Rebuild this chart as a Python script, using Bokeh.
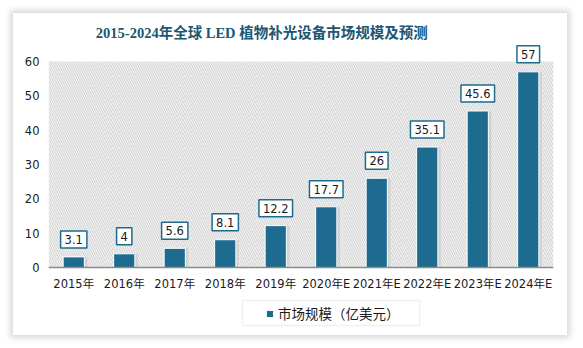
from bokeh.plotting import figure
from bokeh.models import (ColumnDataSource, BoxAnnotation, Legend, Span,
                          LegendItem, FactorRange)
from bokeh.core.properties import value
from bokeh.transform import dodge
from bokeh.embed import file_html
from bokeh.resources import INLINE

# Market size data (100 million USD), E = estimate
years = ["2015年", "2016年", "2017年", "2018年", "2019年",
         "2020年E", "2021年E", "2022年E", "2023年E", "2024年E"]
market_size = [3.1, 4, 5.6, 8.1, 12.2, 17.7, 26, 35.1, 45.6, 57]
value_labels = ["3.1", "4", "5.6", "8.1", "12.2", "17.7", "26", "35.1", "45.6", "57"]
y_ticks = [0, 10, 20, 30, 40, 50, 60]
title_text = "2015-2024年全球 LED 植物补光设备市场规模及预测"
legend_label = "市场规模（亿美元）"

BAR = "#1d6b8f"
SANS = "DejaVu Sans, Noto Sans CJK SC"
Y_MAX = 60
# the frame spans the whole card: headroom above for boxes and the title,
# room below zero for the category labels and the legend
Y_RANGE = (-19.8, 74)

src = ColumnDataSource(dict(year=years, size=market_size, label=value_labels))

p = figure(x_range=FactorRange(*years, range_padding=0), y_range=Y_RANGE,
           width=554, height=322, output_backend="svg", toolbar_location=None,
           min_border_left=35, min_border_right=14, min_border_top=0,
           min_border_bottom=0)
p.styles = {"margin-left": "13px", "margin-top": "13px",
            "box-shadow": "0px 0px 6px 3px #d9d9d9"}
p.outline_line_color = None
p.background_fill_color = "white"
p.border_fill_color = "white"

# hatched plot background, limited to the value scale
p.add_layout(BoxAnnotation(bottom=0, top=Y_MAX, fill_color="white", fill_alpha=1.0,
                           line_color=None, hatch_pattern="\\", hatch_color="#c8c8c8",
                           hatch_scale=4.5, hatch_weight=1, level="underlay"))

# soft shadow behind the bars
p.vbar(x=dodge("year", 0.06, range=p.x_range), top="size", width=0.42, source=src,
       fill_color="#bdbdbd", fill_alpha=0.45, line_color=None)
bars = p.vbar(x="year", top="size", width=0.42, source=src,
              fill_color=BAR, line_color="white", line_width=1)

# baseline of the category axis
p.add_layout(Span(location=0, dimension="width", line_color="#8c8c8c", line_width=1.5))

# category labels under the baseline
p.text(x="year", y=0, text="year", source=src, y_offset=9,
       text_align="center", text_baseline="top",
       text_font=value(SANS), text_font_size="11.5px", text_color="#1a1a1a")

# value labels in framed boxes
p.text(x="year", y="size", text="label", source=src,
       text_align="center", text_baseline="bottom", y_offset=-9,
       text_font=value(SANS), text_font_size="11.5px",
       text_color="#1a1a1a", background_fill_color="white",
       border_line_color=BAR, border_line_width=1.5, padding=4)

# chart title
p.text(x=[years[4]], y=[68.4], text=[title_text], x_offset=-14,
       text_font=value("Liberation Serif, Noto Sans CJK SC"),
       text_font_style="bold", text_font_size="14.5px",
       text_color="#1b5673", text_align="center", text_baseline="middle")

# axes
p.xaxis.visible = False
p.yaxis.ticker = y_ticks
p.yaxis.axis_line_color = None
p.yaxis.major_tick_line_color = None
p.yaxis.minor_tick_line_color = None
p.yaxis.major_label_text_font = SANS
p.yaxis.major_label_text_font_size = "11.5px"
p.yaxis.major_label_text_color = "#1a1a1a"
p.yaxis.major_label_standoff = 3
p.xgrid.grid_line_color = None
p.ygrid.grid_line_color = None

# legend frame (wider than the legend's own padding allows)
p.add_layout(BoxAnnotation(left=3.84, right=7.35, bottom=-16.9, top=-9.6,
                           fill_alpha=0, line_color="#d0d0d0", line_width=1.5,
                           level="overlay"))
legend = Legend(items=[LegendItem(label=legend_label, renderers=[bars])],
                location=(217, 12), orientation="horizontal",
                label_text_font=SANS, label_text_font_size="13.5px",
                label_text_color="#1a1a1a", glyph_width=9, glyph_height=9,
                border_line_color=None, background_fill_alpha=0,
                padding=0, margin=0, label_standoff=4)
p.add_layout(legend, "center")

open("out.html", "w").write(file_html(p, INLINE))
